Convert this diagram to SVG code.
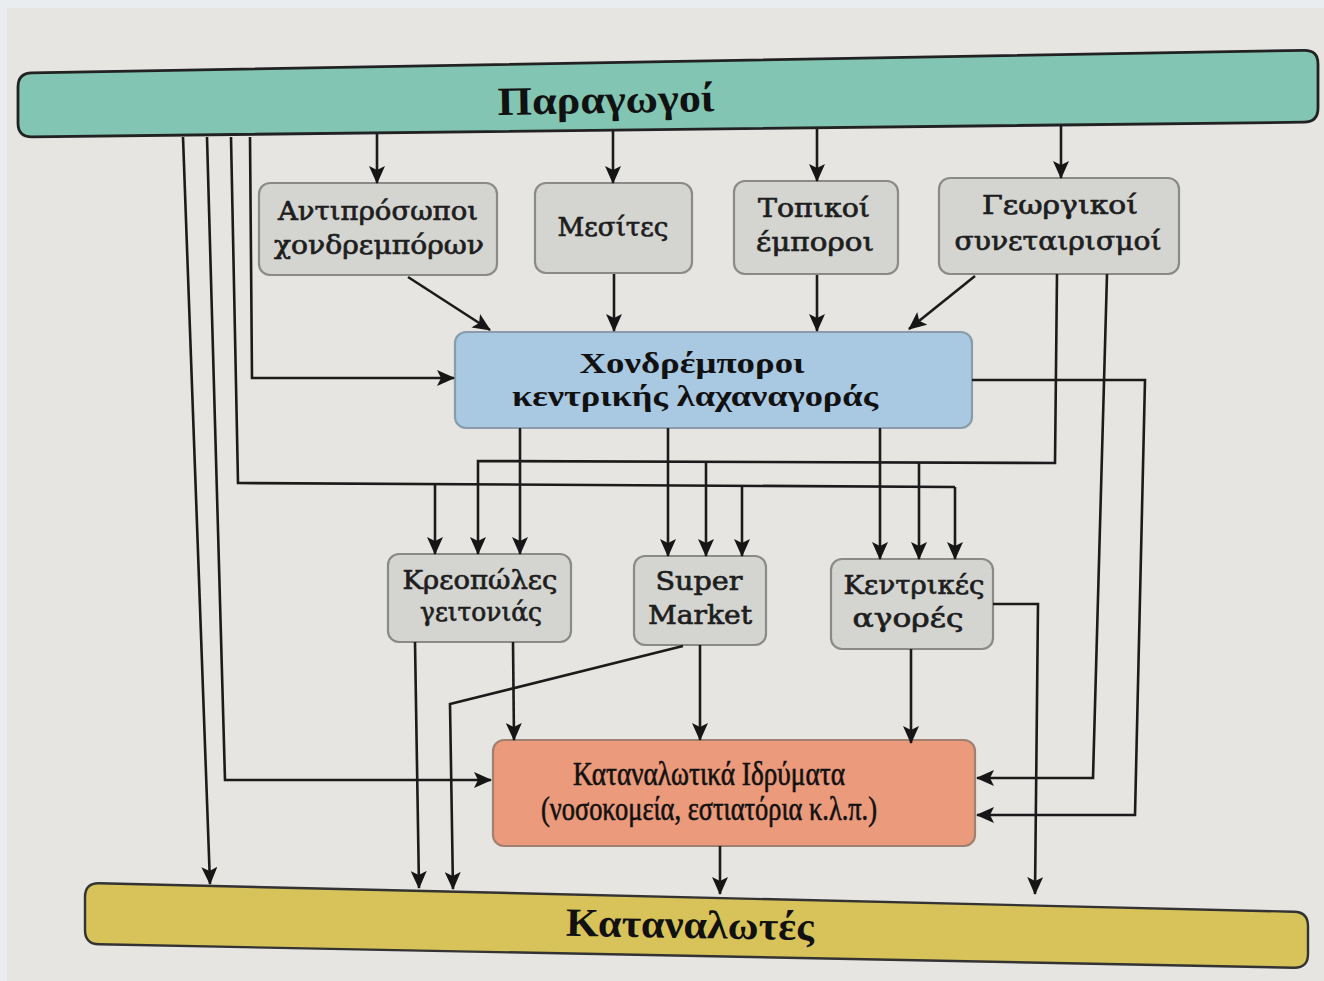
<svg xmlns="http://www.w3.org/2000/svg" width="1324" height="981" viewBox="0 0 1324 981">
<defs>
<marker id="ah" markerUnits="userSpaceOnUse" markerWidth="18" markerHeight="16" refX="17" refY="8" orient="auto">
<path d="M0,0 L18,8 L0,16 L4,8 Z" fill="#161616"/>
</marker>
<style>
.ln{fill:none;stroke:#1b1b1b;stroke-width:2.6;stroke-linejoin:miter}
.ar{marker-end:url(#ah)}
.gb{fill:#d4d4d1;stroke:#8a8a88;stroke-width:2.2}
.gt{font-family:"DejaVu Serif",serif;font-size:26px;font-weight:normal;fill:#1e1e1e;stroke:#1e1e1e;stroke-width:0.7;text-anchor:middle}
.bt{font-family:"Liberation Serif",serif;font-size:29px;font-weight:bold;fill:#111;text-anchor:middle}
.ot{font-family:"Liberation Serif",serif;font-size:33px;fill:#111;stroke:#111;stroke-width:0.6;text-anchor:middle}
</style>
</defs>
<rect x="0" y="0" width="1324" height="981" fill="#e9edef"/>
<rect x="7" y="8" width="1317" height="973" fill="#e6e5e1"/>

<g id="paragogoi">
<path d="M32,72.8 L1304,50.3 Q1318,50 1318,64 L1318,108 Q1318,122 1304,122.2 L32,136.8 Q18,137 18,123 L18,87 Q18,73 32,72.8 Z" fill="#82c5b2" stroke="#222" stroke-width="2.8"/>
<text x="606" y="113" transform="rotate(-1 606 100)" font-family="Liberation Serif, serif" font-size="40" font-weight="bold" fill="#111" text-anchor="middle" textLength="217" lengthAdjust="spacingAndGlyphs">Παραγωγοί</text>
</g>

<g id="antiprosopoi">
<rect class="gb" x="259" y="183" width="238" height="92" rx="11"/>
<text class="gt" x="378" y="220" textLength="200" lengthAdjust="spacingAndGlyphs">Αντιπρόσωποι</text>
<text class="gt" x="379" y="254" textLength="210" lengthAdjust="spacingAndGlyphs">χονδρεμπόρων</text>
</g>
<g id="mesites">
<rect class="gb" x="535" y="183" width="157" height="90" rx="11"/>
<text class="gt" x="613" y="236" textLength="111" lengthAdjust="spacingAndGlyphs">Μεσίτες</text>
</g>
<g id="topikoi">
<rect class="gb" x="734" y="181" width="164" height="93" rx="11"/>
<text class="gt" x="814" y="217" textLength="112" lengthAdjust="spacingAndGlyphs">Τοπικοί</text>
<text class="gt" x="815" y="251" textLength="118" lengthAdjust="spacingAndGlyphs">έμποροι</text>
</g>
<g id="georgikoi">
<rect class="gb" x="939" y="178" width="240" height="96" rx="11"/>
<text class="gt" x="1060" y="214" textLength="156" lengthAdjust="spacingAndGlyphs">Γεωργικοί</text>
<text class="gt" x="1058" y="250" textLength="207" lengthAdjust="spacingAndGlyphs">συνεταιρισμοί</text>
</g>

<g id="chondremporoi">
<rect x="455" y="332" width="517" height="96" rx="11" fill="#a9c8e2" stroke="#8a9cab" stroke-width="2.2"/>
<text class="bt" x="692" y="373" textLength="225" lengthAdjust="spacingAndGlyphs">Χονδρέμποροι</text>
<text class="bt" x="695" y="406" textLength="366" lengthAdjust="spacingAndGlyphs">κεντρικής λαχαναγοράς</text>
</g>

<g id="kreopoles">
<rect class="gb" x="388" y="554" width="183" height="88" rx="11"/>
<text class="gt" x="480" y="589" textLength="155" lengthAdjust="spacingAndGlyphs">Κρεοπώλες</text>
<text class="gt" x="481" y="621" textLength="122" lengthAdjust="spacingAndGlyphs">γειτονιάς</text>
</g>
<g id="supermarket">
<rect class="gb" x="634" y="556" width="132" height="89" rx="11"/>
<text class="gt" x="699" y="590" textLength="87" lengthAdjust="spacingAndGlyphs">Super</text>
<text class="gt" x="700" y="624" textLength="104" lengthAdjust="spacingAndGlyphs">Market</text>
</g>
<g id="kentrikes">
<rect class="gb" x="831" y="559" width="162" height="90" rx="11"/>
<text class="gt" x="914" y="594" textLength="141" lengthAdjust="spacingAndGlyphs">Κεντρικές</text>
<text class="gt" x="908" y="627" textLength="111" lengthAdjust="spacingAndGlyphs">αγορές</text>
</g>

<g id="idrymata">
<rect x="493" y="740" width="482" height="106" rx="11" fill="#eb9a7b" stroke="#a08070" stroke-width="2.2"/>
<text class="ot" x="709" y="785" textLength="272" lengthAdjust="spacingAndGlyphs">Καταναλωτικά Ιδρύματα</text>
<text class="ot" x="709" y="820" textLength="336" lengthAdjust="spacingAndGlyphs">(νοσοκομεία, εστιατόρια κ.λ.π.)</text>
</g>

<g id="katanalotes">
<path d="M99,883.3 L1294,911.7 Q1308,912 1308,926 L1308,954 Q1308,968 1294,967.7 L99,944.3 Q85,944 85,930 L85,897 Q85,883 99,883.3 Z" fill="#d8c35a" stroke="#333" stroke-width="2.4"/>
<text x="690" y="938" transform="rotate(1 690 925)" font-family="Liberation Serif, serif" font-size="40" font-weight="bold" fill="#111" text-anchor="middle" textLength="248" lengthAdjust="spacingAndGlyphs">Καταναλωτές</text>
</g>

<g id="connectors">
<path class="ln ar" d="M377,134 L377,183"/>
<path class="ln ar" d="M613,131 L613,183"/>
<path class="ln ar" d="M817,129 L817,181"/>
<path class="ln ar" d="M1061,125 L1061,178"/>
<path class="ln ar" d="M408,277 L490,330"/>
<path class="ln ar" d="M614,274 L614,331"/>
<path class="ln ar" d="M817,275 L817,331"/>
<path class="ln ar" d="M975,276 L909,329"/>
<path class="ln ar" d="M183,137 L210,884"/>
<path class="ln ar" d="M207,137 L225,780 L491,780"/>
<path class="ln" d="M231,137 L238,483 L955,487"/>
<path class="ln ar" d="M250,137 L252,378 L454,378"/>
<path class="ln ar" d="M435,483 L435,554"/>
<path class="ln ar" d="M742,486 L742,556"/>
<path class="ln ar" d="M955,487 L955,559"/>
<path class="ln ar" d="M1057,274 L1055,463 L478,461 L478,554"/>
<path class="ln ar" d="M706,462 L706,556"/>
<path class="ln ar" d="M919,463 L919,559"/>
<path class="ln ar" d="M520,428 L520,554"/>
<path class="ln ar" d="M668,428 L668,556"/>
<path class="ln ar" d="M880,428 L880,559"/>
<path class="ln ar" d="M1107,274 L1093,778 L977,778"/>
<path class="ln ar" d="M972,380 L1145,380 L1135,815 L977,815"/>
<path class="ln ar" d="M993,604 L1038,604 L1035,894"/>
<path class="ln ar" d="M415,642 L419,888"/>
<path class="ln ar" d="M513,642 L514,740"/>
<path class="ln ar" d="M683,646 L450,704 L453,889"/>
<path class="ln ar" d="M700,645 L700,740"/>
<path class="ln ar" d="M911,649 L911,743"/>
<path class="ln ar" d="M720,846 L720,894"/>
</g>
</svg>
